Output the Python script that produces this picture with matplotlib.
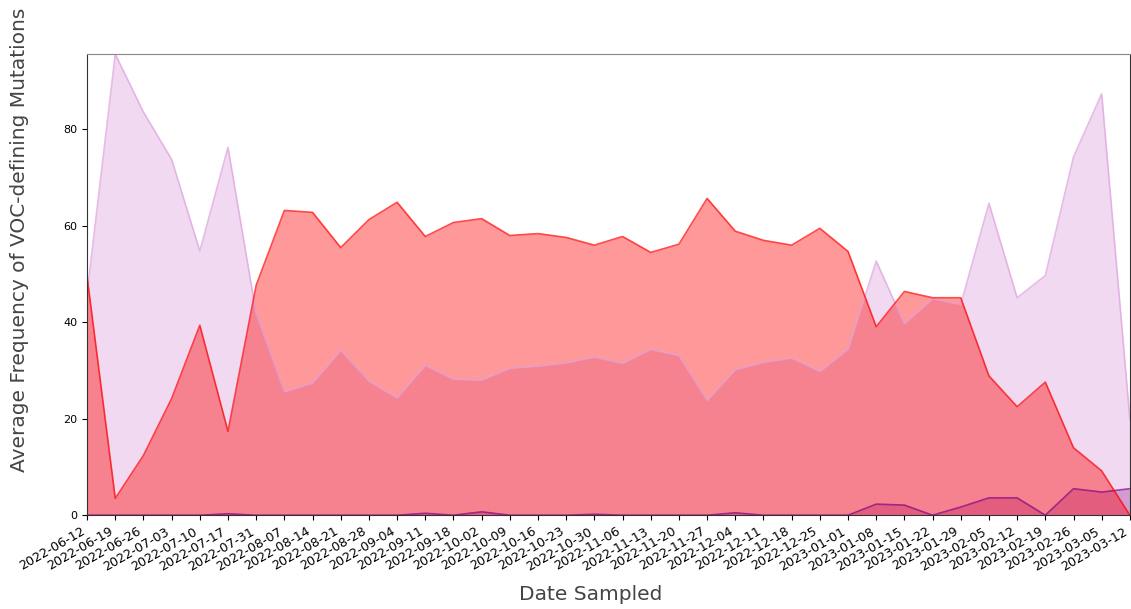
import matplotlib
matplotlib.use("Agg")
import matplotlib.pyplot as plt
import numpy as np

dates = ["2022-06-12", "2022-06-19", "2022-06-26", "2022-07-03", "2022-07-10",
         "2022-07-17", "2022-07-31", "2022-08-07", "2022-08-14", "2022-08-21",
         "2022-08-28", "2022-09-04", "2022-09-11", "2022-09-18", "2022-10-02",
         "2022-10-09", "2022-10-16", "2022-10-23", "2022-10-30", "2022-11-06",
         "2022-11-13", "2022-11-20", "2022-11-27", "2022-12-04", "2022-12-11",
         "2022-12-18", "2022-12-25", "2023-01-01", "2023-01-08", "2023-01-15",
         "2023-01-22", "2023-01-29", "2023-02-05", "2023-02-12", "2023-02-19",
         "2023-02-26", "2023-03-05", "2023-03-12"]

# red series
red_vals = [49.5, 3.5, 12.4, 24.2, 39.4, 17.4, 47.7, 63.2, 62.8, 55.5,
            61.3, 64.9, 57.8, 60.7, 61.5, 58.0, 58.4, 57.6, 56.0, 57.8,
            54.5, 56.2, 65.7, 58.9, 57.0, 56.0, 59.5, 54.7, 39.1, 46.4,
            45.1, 45.1, 28.9, 22.5, 27.6, 14.0, 9.2, 0.0]

# plum series
plum_vals = [46.0, 95.6, 83.6, 73.8, 54.8, 76.3, 41.8, 25.6, 27.4, 34.2,
             27.8, 24.3, 31.1, 28.2, 28.0, 30.5, 30.9, 31.6, 32.8, 31.5,
             34.4, 33.1, 23.8, 30.2, 31.7, 32.6, 29.8, 34.4, 52.7, 39.7,
             44.9, 43.7, 64.7, 45.1, 49.7, 74.3, 87.4, 20.0]

# purple series
purple_vals = [0.0, 0.0, 0.0, 0.0, 0.0, 0.3, 0.0, 0.0, 0.0, 0.0,
               0.0, 0.0, 0.4, 0.0, 0.7, 0.0, 0.0, 0.0, 0.2, 0.0,
               0.0, 0.0, 0.0, 0.5, 0.0, 0.0, 0.0, 0.0, 2.3, 2.1,
               0.0, 1.7, 3.6, 3.6, 0.0, 5.5, 4.8, 5.5]

x = np.arange(len(dates))

fig, ax = plt.subplots(figsize=(11.31, 6.09), dpi=100)
fig.subplots_adjust(left=0.077, right=0.999, top=0.911, bottom=0.154)

# purple first, then plum, red on top
for vals, color in [(purple_vals, "purple"), (plum_vals, "plum"), (red_vals, "red")]:
    ax.fill_between(x, vals, color=color, alpha=0.4, linewidth=0)
    ax.plot(x, vals, color=color, alpha=0.7, linewidth=1.2)

ax.set_xlim(0, len(dates) - 1)
ax.set_ylim(0, max(plum_vals))
ax.set_xticks(x)
ax.set_xticklabels(dates, rotation=30, ha="right", fontsize=9.2)
ax.tick_params(axis="y", labelsize=8)

ax.set_xlabel("Date Sampled", fontsize=14.5, color="#444444")
ax.set_ylabel("Average Frequency of VOC-defining Mutations", fontsize=14.5, color="#444444")
ax.xaxis.set_label_coords(0.483, -0.152)
ax.yaxis.set_label_coords(-0.056, 0.597)

ax.spines["top"].set_color("#888888")
for s in ["left", "right", "bottom"]:
    ax.spines[s].set_color("#333333")

plt.savefig("out.png")
